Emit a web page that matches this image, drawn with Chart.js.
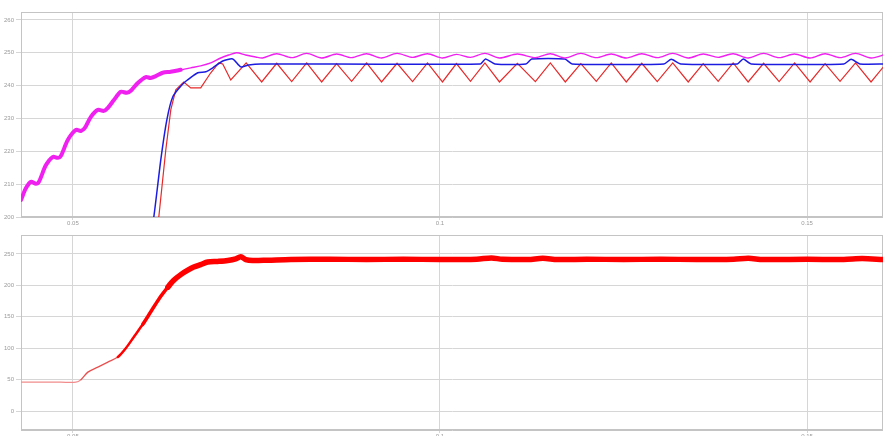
<!DOCTYPE html>
<html>
<head>
<meta charset="utf-8">
<script src="https://cdn.jsdelivr.net/npm/chart.js@4/dist/chart.umd.min.js"></script>
<style>
  body { margin: 0; background: #fff; }
  canvas { display: block; }
</style>
</head>
<body>
<canvas id="topChart" width="883" height="228"></canvas>
<canvas id="bottomChart" width="883" height="208"></canvas>
<script>
// axis ticks
const xTicks = [0.05, 0.1, 0.15];
const xTickLabels = ['0.05', '0.1', '0.15'];
const topYTicks = [200, 210, 220, 230, 240, 250, 260];
const bottomYTicks = [0, 50, 100, 150, 200, 250];

// top panel - magenta trace
const magentaT = [0.04293, 0.04361, 0.04429, 0.04497, 0.04537, 0.04633, 0.04728, 0.04796, 0.04837, 0.04932,
  0.05041, 0.05109, 0.05163, 0.05245, 0.05340, 0.05422, 0.05476, 0.05558, 0.05653, 0.05735,
  0.05789, 0.05884, 0.05993, 0.06061, 0.06129, 0.06224, 0.06333, 0.06469, 0.06605, 0.06741,
  0.06878, 0.07014, 0.07122, 0.07231, 0.07354, 0.07490, 0.07585,
  0.07776, 0.07980, 0.08184, 0.08388, 0.08592, 0.08796, 0.09000, 0.09204, 0.09415, 0.09626,
  0.09830, 0.10034, 0.10224, 0.10415, 0.10612, 0.10810, 0.11054, 0.11299, 0.11503, 0.11707,
  0.11918, 0.12129, 0.12333, 0.12537, 0.12748, 0.12959, 0.13170, 0.13381, 0.13585, 0.13789,
  0.13993, 0.14197, 0.14408, 0.14619, 0.14830, 0.15041, 0.15245, 0.15449, 0.15660, 0.15871, 0.16080];
const magentaV = [205.2, 208.8, 210.7, 210.1, 210.7, 215.8, 218.3, 218.0, 218.6, 223.5,
  226.5, 226.2, 227.1, 230.5, 232.6, 232.3, 233.2, 235.6, 238.1, 237.8,
  238.4, 240.8, 242.6, 242.3, 242.9, 243.9, 244.2, 244.8, 245.4, 246.0,
  246.9, 248.4, 249.3, 250.0, 249.3, 248.7, 248.4,
  249.7, 248.5, 249.8, 248.4, 249.6, 248.5, 249.7, 248.4, 249.8, 248.6,
  249.7, 248.4, 249.5, 248.6, 249.8, 248.4, 249.6, 248.5, 249.7, 248.4,
  249.8, 248.5, 249.6, 248.4, 249.7, 248.5, 249.8, 248.4, 249.6, 248.6,
  249.7, 248.4, 249.8, 248.5, 249.6, 248.4, 249.7, 248.5, 249.8, 248.4, 249.6];

// top panel - blue trace
const blueT = [0.06061, 0.06102, 0.06197, 0.06279, 0.06361, 0.06510, 0.06701, 0.06810, 0.06905, 0.07041,
  0.07177, 0.07286, 0.07395, 0.07558, 0.10550, 0.10620, 0.10750, 0.11170, 0.11250, 0.11700,
  0.11800, 0.13050, 0.13150, 0.13280, 0.14050, 0.14130, 0.14240, 0.15500, 0.15600, 0.15720, 0.16080];
const blueV = [196.0, 200.0, 217.4, 229.5, 236.6, 240.8, 243.9, 244.2, 245.4, 247.5,
  248.1, 245.7, 246.3, 246.6, 246.6, 248.1, 246.6, 246.6, 248.1, 248.1,
  246.6, 246.6, 248.0, 246.6, 246.6, 248.1, 246.6, 246.6, 248.0, 246.6, 246.6];

// top panel - red trace
const redT = [0.06129, 0.06170, 0.06265, 0.06333, 0.06401, 0.06510, 0.06605, 0.06741, 0.06878, 0.06986,
  0.07041, 0.07150, 0.07360, 0.07571, 0.07776, 0.07980, 0.08184, 0.08388, 0.08592, 0.08796,
  0.09000, 0.09204, 0.09415, 0.09626, 0.09830, 0.10034, 0.10224, 0.10415, 0.10612, 0.10810,
  0.11054, 0.11299, 0.11503, 0.11707, 0.11918, 0.12129, 0.12333, 0.12537, 0.12748, 0.12959,
  0.13170, 0.13381, 0.13585, 0.13789, 0.13993, 0.14197, 0.14408, 0.14619, 0.14830, 0.15041,
  0.15245, 0.15449, 0.15660, 0.15871, 0.16080];
const redV = [196.0, 200.0, 220.4, 232.6, 238.7, 241.1, 239.3, 239.3, 243.9, 246.9,
  246.6, 241.7, 246.9, 241.1, 246.8, 241.2, 246.9, 241.1, 246.7, 241.3,
  246.9, 241.1, 246.8, 241.2, 246.9, 241.1, 246.7, 241.3, 246.9, 241.1,
  246.8, 241.2, 246.9, 241.1, 246.7, 241.3, 246.9, 241.1, 246.8, 241.2,
  246.9, 241.1, 246.7, 241.3, 246.9, 241.1, 246.8, 241.2, 246.9, 241.1,
  246.7, 241.3, 246.9, 241.1, 246.8];

// bottom panel - output trace
const outT = [0.04293, 0.04837, 0.05041, 0.05109, 0.05204, 0.05340, 0.05476, 0.05612, 0.05721, 0.05830,
  0.05952, 0.06061, 0.06170, 0.06293, 0.06374, 0.06469, 0.06565, 0.06646, 0.06741, 0.06837,
  0.06973, 0.07109, 0.07218, 0.07286, 0.07354, 0.07449, 0.07653, 0.07966, 0.08500, 0.09000,
  0.09500, 0.10000, 0.10500, 0.10700, 0.10850, 0.11200, 0.11400, 0.11600, 0.12000, 0.12500,
  0.13000, 0.13500, 0.14000, 0.14200, 0.14400, 0.15000, 0.15500, 0.15750, 0.16034];
const outV = [46, 46, 46, 50, 62, 70, 78, 86, 100, 118,
  138, 158, 178, 197, 208, 217, 224, 229, 233, 237,
  238, 239.5, 242, 245.5, 241, 239.5, 240, 241, 241.5, 241,
  241.5, 241, 241.5, 243.5, 241.5, 241, 243, 241, 241.5, 241,
  241.5, 241, 241.5, 243, 241, 241.5, 241, 242.5, 241];

const pts = (t, v) => t.map((x, i) => ({ x: x, y: v[i] }));

const framePlugin = {
  id: 'frame',
  beforeDatasetsDraw(chart) {
    const { ctx, chartArea: a } = chart;
    ctx.save();
    ctx.strokeStyle = '#c4c4c4';
    ctx.lineWidth = 1;
    ctx.strokeRect(a.left + 0.5, a.top + 0.5, a.width - 1, a.height - 1);
    ctx.restore();
  }
};

function xScale(axisHeight) {
  return {
    type: 'linear',
    min: 0.04293,
    max: 0.16034,
    afterBuildTicks: s => { s.ticks = xTicks.map(v => ({ value: v })); },
    afterFit: s => { s.height = axisHeight; },
    grid: { color: '#d6d6d6', tickLength: 3 },
    border: { color: '#c4c4c4' },
    ticks: {
      color: '#9a9a9a',
      font: { size: 6, family: 'Liberation Sans' },
      padding: 0,
      maxRotation: 0,
      callback: (v, i) => xTickLabels[i]
    }
  };
}

function yScale(min, max, tickList) {
  return {
    min: min,
    max: max,
    afterBuildTicks: s => { s.ticks = tickList.map(v => ({ value: v })); },
    afterFit: s => { s.width = 21; },
    grid: { color: '#d6d6d6', tickLength: 5 },
    border: { color: '#c4c4c4' },
    ticks: {
      color: '#9a9a9a',
      font: { size: 6, family: 'Liberation Sans' },
      padding: 2
    }
  };
}

new Chart(document.getElementById('topChart'), {
  type: 'line',
  data: {
    datasets: [
      {
        data: pts(magentaT, magentaV),
        borderColor: '#f020f0',
        borderWidth: 1.4,
        borderCapStyle: 'round',
        borderJoinStyle: 'round',
        pointRadius: 0,
        tension: 0.3,
        segment: { borderWidth: c => c.p0.parsed.x < 0.0634 ? 4 : 1.4 }
      },
      {
        data: pts(blueT, blueV),
        borderColor: '#1c1ce0',
        borderWidth: 1.5,
        pointRadius: 0,
        tension: 0.2
      },
      {
        data: pts(redT, redV),
        borderColor: '#e62a2a',
        borderWidth: 1.2,
        pointRadius: 0,
        tension: 0
      }
    ]
  },
  options: {
    responsive: false,
    animation: false,
    layout: { padding: { top: 12, left: 0, right: 0, bottom: 0 } },
    plugins: { legend: { display: false }, tooltip: { enabled: false } },
    scales: { x: xScale(11), y: yScale(200, 262.4, topYTicks) }
  },
  plugins: [framePlugin]
});

new Chart(document.getElementById('bottomChart'), {
  type: 'line',
  data: {
    datasets: [
      {
        data: pts(outT, outV),
        borderColor: '#ff0000',
        borderWidth: 5,
        borderCapStyle: 'round',
        borderJoinStyle: 'round',
        pointRadius: 0,
        tension: 0.3,
        segment: {
          borderColor: c => c.p0.parsed.x < 0.0505 ? '#f28c8c' : (c.p0.parsed.x < 0.056 ? '#e85050' : '#ff0000'),
          borderWidth: c => {
            const t = c.p0.parsed.x;
            if (t < 0.0555) return 1.3;
            if (t < 0.059) return 2.5;
            if (t < 0.0625) return 3.5;
            return 5.5;
          }
        }
      }
    ]
  },
  options: {
    responsive: false,
    animation: false,
    layout: { padding: { top: 7, left: 0, right: 0, bottom: 0 } },
    plugins: { legend: { display: false }, tooltip: { enabled: false } },
    scales: { x: xScale(6), y: yScale(-30, 280, bottomYTicks) }
  },
  plugins: [framePlugin]
});
</script>
</body>
</html>
